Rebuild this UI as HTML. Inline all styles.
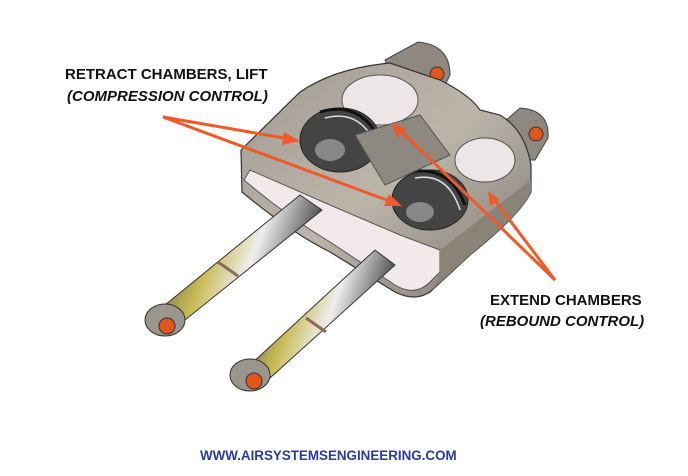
<!DOCTYPE html>
<html><head><style>
body{margin:0;width:688px;height:476px;background:#fff;overflow:hidden;font-family:"Liberation Sans",sans-serif}
.t{position:absolute;font-weight:bold;font-size:15px;color:#111;white-space:nowrap}
.i{font-style:italic}
</style></head><body>
<svg width="688" height="476" style="position:absolute;left:0;top:0">
<defs>
<linearGradient id="rod" x1="0" y1="0" x2="1" y2="0.3">
<stop offset="0" stop-color="#444"/><stop offset="0.4" stop-color="#c9bb55"/><stop offset="0.65" stop-color="#eee"/><stop offset="1" stop-color="#3a3a3a"/></linearGradient>
<linearGradient id="body" x1="0" y1="0" x2="1" y2="1">
<stop offset="0" stop-color="#a09a92"/><stop offset="0.5" stop-color="#bdb5aa"/><stop offset="1" stop-color="#7d7872"/></linearGradient>
</defs>
<path d="M385,60 L418,42 Q450,45 450,75 L440,95 L400,100 Z" fill="#8e8880" stroke="#444"/>
<circle cx="437" cy="74" r="7" fill="#e0561c" stroke="#333"/>
<path d="M495,130 L520,108 Q550,110 548,138 L535,160 L505,160 Z" fill="#8e8880" stroke="#444"/>
<circle cx="536" cy="134" r="7" fill="#e0561c" stroke="#333"/>
<path d="M241,150 L300,92 Q335,68 390,63 L440,80 Q470,95 480,110 L500,115 Q525,130 531,165 L531,192 Q520,215 470,255 L430,292 Q415,302 395,292 L330,252 Q290,232 242,192 Z" fill="url(#body)" stroke="#333" stroke-width="1.2"/>
<path d="M244,180 Q285,215 330,242 L395,285 Q415,297 430,282 L440,272 L440,250 L400,235 L330,205 L250,170 Z" fill="#f2eaea" stroke="#555"/>
<path d="M440,250 L531,180 L531,192 Q520,215 470,255 L432,290 L440,272 Z" fill="#8a8378"/>
<ellipse cx="380" cy="100" rx="38" ry="25" fill="#ece6e6" stroke="#555"/>
<ellipse cx="485" cy="160" rx="30" ry="22" fill="#ece6e6" stroke="#555"/>
<ellipse cx="340" cy="140" rx="40" ry="32" fill="#444" stroke="#222"/>
<path d="M320,112 Q360,100 380,140" stroke="#111" stroke-width="3" fill="none"/>
<path d="M325,118 Q362,108 378,150" stroke="#ddd" stroke-width="1.5" fill="none"/>
<ellipse cx="330" cy="150" rx="15" ry="11" fill="#888"/>
<ellipse cx="430" cy="200" rx="38" ry="30" fill="#444" stroke="#222"/>
<path d="M410,172 Q450,165 465,205" stroke="#111" stroke-width="3" fill="none"/>
<path d="M415,178 Q448,172 460,210" stroke="#ddd" stroke-width="1.5" fill="none"/>
<ellipse cx="420" cy="212" rx="14" ry="10" fill="#888"/>
<path d="M355,135 L420,115 L450,155 L385,185 Z" fill="#8d8880" stroke="#555"/>
<path d="M300,195 L322,210 L185,320 L165,305 Z" fill="url(#rod)" stroke="#333"/>
<path d="M375,250 L395,265 L270,378 L250,365 Z" fill="url(#rod)" stroke="#333"/>
<line x1="218" y1="262" x2="238" y2="276" stroke="#8a6a5a" stroke-width="3"/>
<line x1="306" y1="318" x2="326" y2="332" stroke="#8a6a5a" stroke-width="3"/>
<ellipse cx="165" cy="320" rx="20" ry="16" fill="#9a958d" stroke="#333"/>
<circle cx="167" cy="326" r="8" fill="#e0561c" stroke="#333"/>
<ellipse cx="250" cy="375" rx="20" ry="16" fill="#9a958d" stroke="#333"/>
<circle cx="254" cy="381" r="8" fill="#e0561c" stroke="#333"/>
<g stroke="#ef5a28" stroke-width="3" fill="#ef5a28">
<line x1="163" y1="117" x2="290" y2="139"/>
<line x1="163" y1="117" x2="392" y2="202"/>
<line x1="555" y1="280" x2="398" y2="128"/>
<line x1="555" y1="280" x2="493" y2="198"/>
</g>
<g fill="#ef5a28">
<polygon points="300,141 284,132 282,145"/>
<polygon points="402,206 389,194 384,206"/>
<polygon points="392,122 397,138 406,129"/>
<polygon points="488,191 490,206 500,200"/>
</g>
</svg>
<div class="t" style="left:65px;top:66px">RETRACT CHAMBERS, LIFT</div>
<div class="t i" style="left:67px;top:88px">(COMPRESSION CONTROL)</div>
<div class="t" style="left:490px;top:292px">EXTEND CHAMBERS</div>
<div class="t i" style="left:480px;top:313px">(REBOUND CONTROL)</div>
<div class="t" style="left:200px;top:448px;color:#2a3aa0;font-size:13.4px">WWW.AIRSYSTEMSENGINEERING.COM</div>
</body></html>
